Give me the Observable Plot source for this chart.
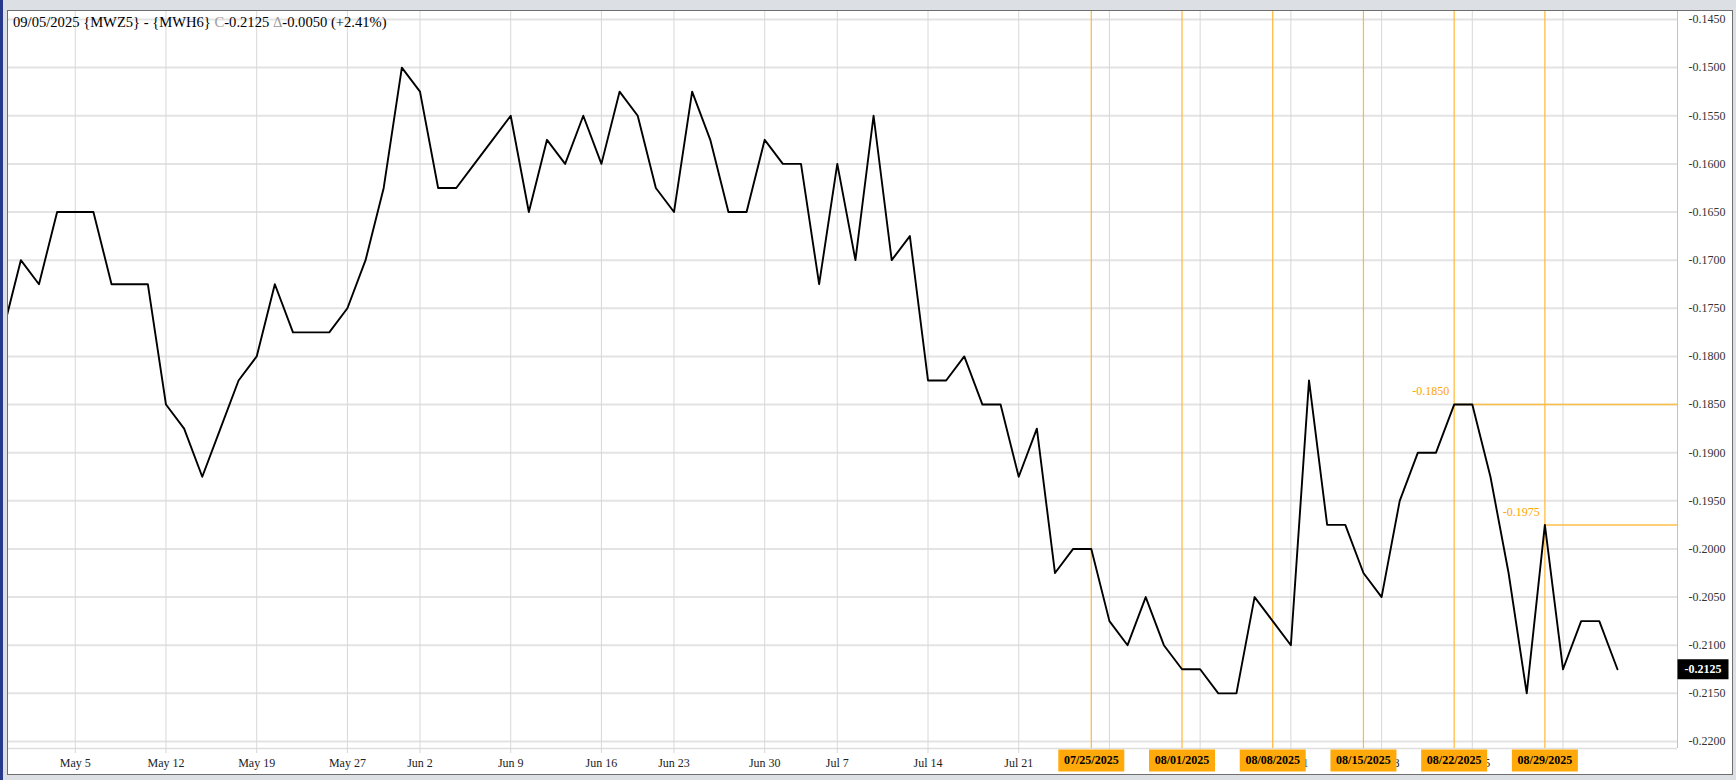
<!DOCTYPE html>
<html><head><meta charset="utf-8">
<script src="https://cdn.jsdelivr.net/npm/d3@7"></script>
<script src="https://cdn.jsdelivr.net/npm/@observablehq/plot@0.6"></script>
<style>
body{margin:0;background:#dce0e5;}
#wrap{position:relative;width:1736px;height:780px;overflow:hidden;background:#dce0e5;}
#strip{position:absolute;left:0;top:0;width:3px;height:780px;background:#26398a;}
#frame{position:absolute;left:7px;top:10px;width:1726px;height:765px;background:#fff;border:1px solid #6e6e6e;box-sizing:border-box;}
#chart{position:absolute;left:0;top:0;}
#title{position:absolute;left:13px;top:15px;font:14.6px "Liberation Serif",serif;line-height:15px;color:#000;white-space:nowrap;z-index:2;}
.g{color:#9a9a9a}
</style></head>
<body>
<div id="wrap"><div id="strip"></div><div id="frame"></div><div id="chart"></div><div id="title"></div></div>
<script>
// ---- data ----
const dates = ["Apr 29","Apr 30","May 1","May 2","May 5","May 6","May 7","May 8","May 9",
"May 12","May 13","May 14","May 15","May 16","May 19","May 20","May 21","May 22","May 23",
"May 27","May 28","May 29","May 30","Jun 2","Jun 3","Jun 4","Jun 5","Jun 6",
"Jun 9","Jun 10","Jun 11","Jun 12","Jun 13","Jun 16","Jun 17","Jun 18","Jun 20",
"Jun 23","Jun 24","Jun 25","Jun 26","Jun 27","Jun 30","Jul 1","Jul 2","Jul 3",
"Jul 7","Jul 8","Jul 9","Jul 10","Jul 11","Jul 14","Jul 15","Jul 16","Jul 17","Jul 18",
"Jul 21","Jul 22","Jul 23","Jul 24","Jul 25","Jul 28","Jul 29","Jul 30","Jul 31","Aug 1",
"Aug 4","Aug 5","Aug 6","Aug 7","Aug 8","Aug 11","Aug 12","Aug 13","Aug 14","Aug 15",
"Aug 18","Aug 19","Aug 20","Aug 21","Aug 22","Aug 25","Aug 26","Aug 27","Aug 28","Aug 29",
"Sep 2","Sep 3","Sep 4","Sep 5"];
const spread = [-0.1775,-0.1700,-0.1725,-0.1650,-0.1650,-0.1650,-0.1725,-0.1725,-0.1725,
-0.1850,-0.1875,-0.1925,-0.1875,-0.1825,-0.1800,-0.1725,-0.1775,-0.1775,-0.1775,
-0.1750,-0.1700,-0.1625,-0.1500,-0.1525,-0.1625,-0.1625,-0.1600,-0.1575,
-0.1550,-0.1650,-0.1575,-0.1600,-0.1550,-0.1600,-0.1525,-0.1550,-0.1625,
-0.1650,-0.1525,-0.1575,-0.1650,-0.1650,-0.1575,-0.1600,-0.1600,-0.1725,
-0.1600,-0.1700,-0.1550,-0.1700,-0.1675,-0.1825,-0.1825,-0.1800,-0.1850,-0.1850,
-0.1925,-0.1875,-0.2025,-0.2000,-0.2000,-0.2075,-0.2100,-0.2050,-0.2100,-0.2125,
-0.2125,-0.2150,-0.2150,-0.2050,-0.2075,-0.2100,-0.1825,-0.1975,-0.1975,-0.2025,
-0.2050,-0.1950,-0.1900,-0.1900,-0.1850,-0.1850,-0.1925,-0.2025,-0.2150,-0.1975,
-0.2125,-0.2075,-0.2075,-0.2125];
const weekTicks = ["May 5","May 12","May 19","May 27","Jun 2","Jun 9","Jun 16","Jun 23","Jun 30",
"Jul 7","Jul 14","Jul 21","Jul 28","Aug 4","Aug 11","Aug 18","Aug 25","Sep 2"];
const yTicks = [-0.1450,-0.1500,-0.1550,-0.1600,-0.1650,-0.1700,-0.1750,-0.1800,-0.1850,
-0.1900,-0.1950,-0.2000,-0.2050,-0.2100,-0.2150,-0.2200];
const markerDates = ["Jul 25","Aug 1","Aug 8","Aug 15","Aug 22","Aug 29"];
const markerLabels = ["07/25/2025","08/01/2025","08/08/2025","08/15/2025","08/22/2025","08/29/2025"];
const levelDates = ["Aug 22","Aug 29"];
const levelValues = [-0.1850,-0.1975];
const titleDate = "09/05/2025", titleSym = "{MWZ5} - {MWH6}";
const lastClose = -0.2125, change = "-0.0050", changePct = "(+2.41%)";

// ---- derived ----
const data = dates.map((d, i) => ({i, date: d, v: spread[i]}));
const tickIdx = weekTicks.map(t => dates.indexOf(t));
const markerIdx = markerDates.map(t => dates.indexOf(t));
const levelIdx = levelDates.map(t => dates.indexOf(t));
const xDomain = [0.32, 92.31];
const yDomain = [-0.22073, -0.14417];
const fmt4 = d => d.toFixed(4);
const boxSym = (w, h) => ({draw(ctx) { ctx.rect(-w / 2, -h / 2, w, h); }});

document.getElementById("title").innerHTML =
  `${titleDate} ${titleSym} <span class="g">C</span>${fmt4(lastClose)} <span class="g">&Delta;</span>${change} ${changePct}`;

const chart = Plot.plot({
  width: 1736, height: 780,
  marginLeft: 8, marginRight: 59, marginTop: 11, marginBottom: 32,
  style: {background: "transparent", fontFamily: '"Liberation Serif", serif', fontSize: "12px", overflow: "visible"},
  x: {type: "linear", domain: xDomain},
  y: {domain: yDomain},
  marks: [
    Plot.ruleY(yTicks, {stroke: "#e3e3e3", strokeWidth: 2}),
    Plot.gridX(tickIdx, {stroke: "#d8d8d8", strokeOpacity: 1, strokeWidth: 1}),
    Plot.ruleY([yDomain[0]], {stroke: "#dedede", strokeWidth: 1.5}),
    Plot.ruleX([xDomain[1]], {stroke: "#c2c2c2", strokeWidth: 1}),
    Plot.axisX(tickIdx, {anchor: "bottom", tickSize: 5, tickPadding: 5, stroke: "#d6d6d6", fill: "#222",
      tickFormat: d => dates[d], label: null}),
    Plot.axisY(yTicks, {anchor: "right", tickSize: 0, tickPadding: 11, fill: "#333",
      tickFormat: fmt4, label: null}),
    Plot.ruleX(markerIdx, {stroke: "#ffb83a", strokeWidth: 1.2}),
    Plot.ruleY(levelValues, {x1: (d, i) => levelIdx[i], x2: xDomain[1], stroke: "#ffbe48", strokeWidth: 1.5}),
    Plot.text(levelValues, {x: (d, i) => levelIdx[i], y: d => d, text: fmt4, textAnchor: "end",
      dx: -5, dy: -13, fill: "#ffa500", fontSize: 12}),
    Plot.line(data, {x: "i", y: "v", stroke: "#000", strokeWidth: 1.9, clip: true}),
    Plot.dot(markerIdx, {x: d => d, frameAnchor: "bottom", dy: 12, symbol: boxSym(66, 22), r: 5,
      fill: "#ffa90a", stroke: null}),
    Plot.text(markerIdx, {x: d => d, frameAnchor: "bottom", dy: 12, lineAnchor: "middle", textAnchor: "middle",
      text: (d, i) => markerLabels[i], fontWeight: "bold", fontSize: 12, fill: "#000"}),
    Plot.dot([lastClose], {y: d => d, frameAnchor: "right", dx: 25.5, symbol: boxSym(51, 20), r: 5,
      fill: "#000", stroke: null}),
    Plot.text([lastClose], {y: d => d, frameAnchor: "right", dx: 25.5, text: fmt4, textAnchor: "middle",
      lineAnchor: "middle", fill: "#fff", fontWeight: "bold", fontSize: 12})
  ]
});
document.getElementById("chart").appendChild(chart);
</script>
</body></html>
